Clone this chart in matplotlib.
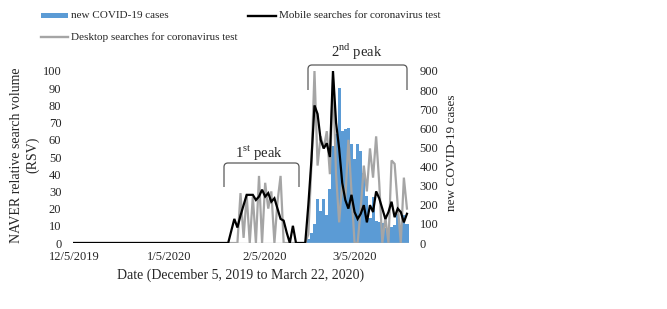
import matplotlib
matplotlib.use('Agg')
import matplotlib.pyplot as plt
import numpy as np
from matplotlib.path import Path
from matplotlib.patches import PathPatch, Rectangle
from matplotlib.lines import Line2D

plt.rcParams['font.family'] = ['Liberation Serif', 'DejaVu Serif']
plt.rcParams['mathtext.fontset'] = 'custom'
plt.rcParams['mathtext.rm'] = 'Liberation Serif'

# ---------------- data (day 0 = 12/5/2019 ... day 108 = 3/22/2020) ----------------
tick_days = [0, 31, 62, 91]
tick_labels = ['12/5/2019', '1/5/2020', '2/5/2020', '3/5/2020']

mobile_rsv = [0] * 50 + [
    0, 7, 14, 9, 16, 22, 28, 28, 28, 25,        # 50-59
    27, 31, 27, 29, 24, 26, 20, 14, 13, 6,      # 60-69
    0, 10, 0, 0, 0, 0, 22, 48, 80, 75,          # 70-79
    60, 55, 58, 50, 100, 70, 55, 35, 25, 20,    # 80-89
    28, 18, 14, 17, 22, 12, 22, 18, 30, 26,     # 90-99
    20, 14, 18, 24, 15, 20, 18, 12, 17]         # 100-108

desktop_rsv = [0] * 50 + [
    0, 0, 0, 0, 29, 3, 28, 0, 27, 0,            # 50-59
    39, 0, 35, 20, 30, 0, 24, 39, 0, 0,         # 60-69
    0, 0, 0, 0, 0, 0, 5, 45, 100, 45,           # 70-79
    62, 55, 65, 40, 95, 40, 12, 35, 25, 60,     # 80-89
    30, 0, 0, 20, 45, 30, 55, 38, 62, 35,       # 90-99
    0, 15, 0, 48, 46, 22, 0, 38, 20]            # 100-108

new_cases = [0] * 75 + [
    1, 20, 53, 100, 229, 169, 231, 144, 284, 505,   # 75-84
    571, 813, 586, 599, 600, 516, 438, 518, 483, 367,  # 85-94
    248, 131, 242, 114, 110, 107, 76, 74, 84, 93,   # 95-104
    152, 87, 147, 98]                              # 105-108

days = np.arange(len(mobile_rsv))

# ---------------- figure ----------------
W, H = 667, 309
fig = plt.figure(figsize=(W / 100, H / 100), dpi=100)

def fx(px):
    return px / W

def fy(py):
    return 1 - py / H

ax = fig.add_axes([fx(72.5), fy(243), fx(336), 172 / H])
ax2 = ax.twinx()
ax.set_zorder(ax2.get_zorder() + 1)
ax.patch.set_visible(False)

blue = '#5B9BD5'
gray = '#A5A5A5'

ax2.bar(days, new_cases, width=1.0, color=blue, linewidth=0)
ax.plot(days, desktop_rsv, color=gray, lw=1.6, solid_joinstyle='miter', zorder=2)
ax.plot(days, mobile_rsv, color='black', lw=1.6, solid_joinstyle='miter', zorder=3)

ax.set_xlim(-0.5, 108.5)
ax.set_ylim(0, 100)
ax2.set_ylim(0, 900)
ax.set_yticks(np.arange(0, 101, 10))
ax2.set_yticks(np.arange(0, 901, 100))
ax.set_xticks(tick_days)
ax.set_xticklabels(tick_labels)

for a in (ax, ax2):
    for s in ('left', 'right', 'top', 'bottom'):
        a.spines[s].set_visible(False)
    a.tick_params(length=0, labelsize=9, colors='#262626')
ax.tick_params(axis='y', pad=8)
ax2.tick_params(axis='y', pad=8)
ax.tick_params(axis='x', pad=6)
ax.axhline(0, color='#BFBFBF', lw=1.0, zorder=1)

ax.set_xlabel('Date (December 5, 2019 to March 22, 2020)', fontsize=10,
              color='#262626', labelpad=4)

fig.text(fx(25), fy(155), 'NAVER relative search volume\n(RSV)', rotation=90,
         ha='center', va='center', multialignment='center', fontsize=10,
         color='#262626', linespacing=1.25)
fig.text(fx(452), fy(153), 'new COVID-19 cases', rotation=90,
         ha='center', va='center', fontsize=9.5, color='#262626')

# ---------------- peak brackets ----------------
def bracket(x0, x1, ytop, ybot, r=4):
    verts = [(x0, ybot), (x0, ytop + r), (x0, ytop), (x0 + r, ytop),
             (x1 - r, ytop), (x1, ytop), (x1, ytop + r), (x1, ybot)]
    codes = [Path.MOVETO, Path.LINETO, Path.CURVE3, Path.CURVE3,
             Path.LINETO, Path.CURVE3, Path.CURVE3, Path.LINETO]
    verts = [(fx(a), fy(b)) for a, b in verts]
    p = PathPatch(Path(verts, codes), transform=fig.transFigure, fill=False,
                  edgecolor='#595959', lw=0.9)
    fig.add_artist(p)

bracket(224, 299, 163, 187)
bracket(308, 407, 65, 90)
fig.text(fx(259), fy(153), r'1$^{\mathrm{st}}$ peak', ha='center', va='center',
         fontsize=10.5, color='#262626')
fig.text(fx(357), fy(52), r'2$^{\mathrm{nd}}$ peak', ha='center', va='center',
         fontsize=10.5, color='#262626')

# ---------------- legend ----------------
fig.add_artist(Rectangle((fx(41), fy(18)), fx(27), 5 / H, transform=fig.transFigure,
                         color=blue, lw=0))
fig.text(fx(71), fy(15.5), 'new COVID-19 cases', ha='left', va='center',
         fontsize=8, color='#262626')
fig.add_artist(Line2D([fx(248), fx(276)], [fy(15.5), fy(15.5)],
                      transform=fig.transFigure, color='black', lw=1.7))
fig.text(fx(279), fy(15.5), 'Mobile searches for coronavirus test', ha='left',
         va='center', fontsize=8, color='#262626')
fig.add_artist(Line2D([fx(41), fx(68)], [fy(37), fy(37)],
                      transform=fig.transFigure, color=gray, lw=1.7))
fig.text(fx(71), fy(37), 'Desktop searches for coronavirus test', ha='left',
         va='center', fontsize=8, color='#262626')

fig.savefig('out.png', dpi=100)
